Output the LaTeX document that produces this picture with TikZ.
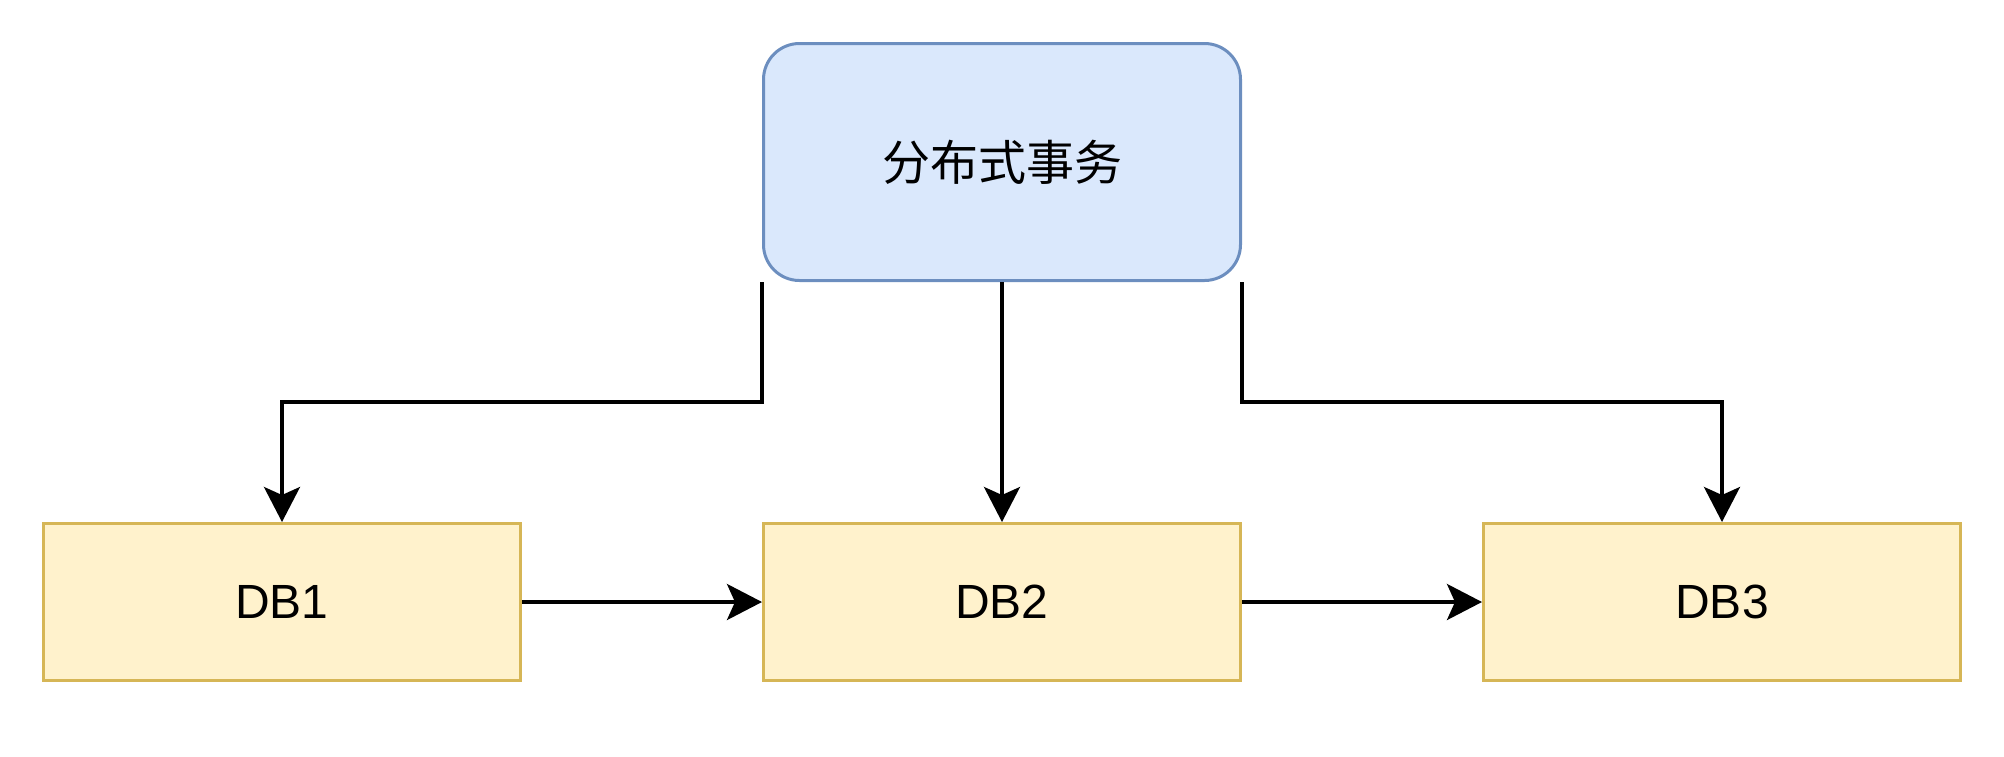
\documentclass[tikz,border=0pt]{standalone}
\usepackage{fontspec}
\setmainfont{Liberation Sans}
\newfontfamily\cjk{Noto Sans CJK SC}
\usepackage{tikz}
\usetikzlibrary{arrows.meta,positioning}

\definecolor{txblue}{HTML}{DAE8FC}
\definecolor{txblueline}{HTML}{6C8EBF}
\definecolor{dbyellow}{HTML}{FFF2CC}
\definecolor{dbyellowline}{HTML}{D6B656}

\begin{document}
\begin{tikzpicture}[
  node distance=120pt,
  >={Stealth[length=17.5pt, width=18pt, inset=4pt]},
  tx/.style={rectangle, rounded corners=18pt, draw=txblueline, fill=txblue, line width=1.5pt, align=center, minimum width=238.5pt, minimum height=118.5pt, text=black, font=\fontsize{24}{28}\selectfont\cjk},
  db/.style={rectangle, draw=dbyellowline, fill=dbyellow, line width=1.5pt, align=center, minimum width=238.5pt, minimum height=78.5pt, text=black, font=\fontsize{24}{28}\selectfont},
  link/.style={->, line width=1.8pt}
]
\useasboundingbox (0,0) rectangle (1002pt,-378pt);
\node[tx] (trans) at (501pt,-81pt) {分布式事务};
\node[db, below=of trans] (db2) {DB2};
\node[db, left=of db2] (db1) {DB1};
\node[db, right=of db2] (db3) {DB3};

\draw[link] (trans.south west) -- ++(0,-60pt) -| (db1.north);
\draw[link] (trans) -- (db2);
\draw[link] (trans.south east) -- ++(0,-60pt) -| (db3.north);
\draw[link] (db1) -- (db2);
\draw[link] (db2) -- (db3);
\end{tikzpicture}
\end{document}
